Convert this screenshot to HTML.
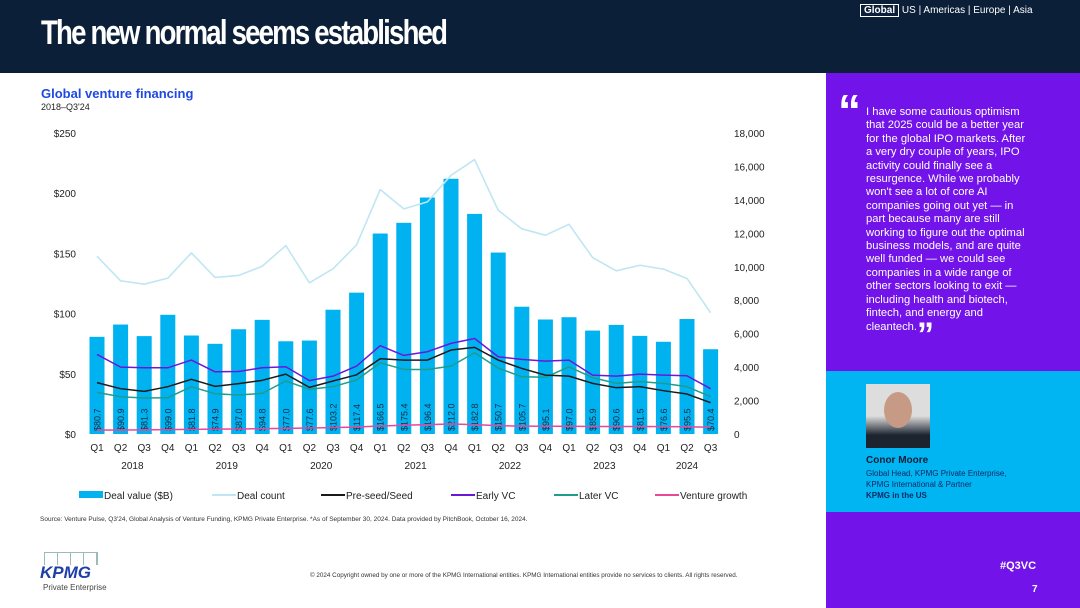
<!DOCTYPE html>
<html><head><meta charset="utf-8"><style>
body{margin:0;width:1080px;height:608px;position:relative;overflow:hidden;background:#fff;font-family:"Liberation Sans",sans-serif}
.abs{position:absolute}
</style></head><body>
<div class="abs" style="left:0;top:0;width:1080px;height:73px;background:#0c1f38"></div>
<div class="abs" style="left:41px;top:14px;color:#fff;font-size:34px;font-weight:bold;letter-spacing:-2.2px;transform:scaleX(0.81);transform-origin:left">The new normal seems established</div>
<div class="abs" style="left:860px;top:5px;color:#fff;font-size:10px"><span style="border:1px solid #fff;padding:0 3px;font-weight:bold">Global</span> <span>US | Americas | Europe | Asia</span></div>
<div class="abs" style="left:41px;top:86px;color:#1e49e2;font-size:13px;font-weight:bold">Global venture financing</div>
<div class="abs" style="left:41px;top:102px;color:#222;font-size:9px">2018–Q3'24</div>
<svg class="abs" id="chart" style="left:0;top:0" width="826" height="540"></svg>
<div class="abs" style="left:40px;top:516px;font-size:6.5px;color:#333">Source: Venture Pulse, Q3'24, Global Analysis of Venture Funding, KPMG Private Enterprise. *As of September 30, 2024. Data provided by PitchBook, October 16, 2024.</div>
<div class="abs" style="left:44px;top:552px;width:52px;height:12px;border:1px solid #9bb;border-bottom:none;background:repeating-linear-gradient(90deg,transparent 0 12px,#9bb 12px 13px)"></div>
<div class="abs" style="left:40px;top:563px;color:#1e3ea8;font-size:17px;font-weight:bold;font-style:italic">KPMG</div>
<div class="abs" style="left:43px;top:583px;color:#444;font-size:8px">Private Enterprise</div>
<div class="abs" style="left:310px;top:572px;font-size:6.3px;color:#333">© 2024 Copyright owned by one or more of the KPMG International entities. KPMG International entities provide no services to clients. All rights reserved.</div>
<div class="abs" style="left:826px;top:73px;width:254px;height:535px;background:#7213ea"></div>
<div class="abs" style="left:838px;top:88px;color:#fff;font-size:46px;font-weight:bold;line-height:46px">“</div>
<div class="abs" style="left:866px;top:106px;width:200px;white-space:nowrap;color:#fff;font-size:11.2px;line-height:13.4px">I have some cautious optimism<br>that 2025 could be a better year<br>for the global IPO markets. After<br>a very dry couple of years, IPO<br>activity could finally see a<br>resurgence. While we probably<br>won't see a lot of core AI<br>companies going out yet — in<br>part because many are still<br>working to figure out the optimal<br>business models, and are quite<br>well funded — we could see<br>companies in a wide range of<br>other sectors looking to exit —<br>including health and biotech,<br>fintech, and energy and<br>cleantech.<span style="display:inline-block;height:10px;vertical-align:top;font-size:34px;font-weight:bold;line-height:28px">”</span></div>
<div class="abs" style="left:826px;top:371px;width:254px;height:141px;background:#00b5f1"></div>
<div class="abs" style="left:866px;top:384px;width:64px;height:64px;background:linear-gradient(#ddd 0,#ddd 50%,#1c2430 80%)"><div style="position:absolute;left:18px;top:8px;width:28px;height:36px;border-radius:50%;background:#c79a85"></div></div>
<div class="abs" style="left:866px;top:455px;color:#0c1f38;font-size:10px;font-weight:bold">Conor Moore</div>
<div class="abs" style="left:866px;top:468px;color:#0c2a66;font-size:8px;line-height:11px">Global Head, KPMG Private Enterprise,<br>KPMG International &amp; Partner<br><b>KPMG in the US</b></div>
<div class="abs" style="left:1000px;top:560px;color:#fff;font-size:11px;font-weight:bold">#Q3VC</div>
<div class="abs" style="left:1032px;top:584px;color:#fff;font-size:10px;font-weight:bold">7</div>
<script>
const quarters=["Q1","Q2","Q3","Q4","Q1","Q2","Q3","Q4","Q1","Q2","Q3","Q4","Q1","Q2","Q3","Q4","Q1","Q2","Q3","Q4","Q1","Q2","Q3","Q4","Q1","Q2","Q3"];
const years=["2018","2019","2020","2021","2022","2023","2024"];
const dealValue=[80.7,90.9,81.3,99.0,81.8,74.9,87.0,94.8,77.0,77.6,103.2,117.4,166.5,175.4,196.4,212.0,182.8,150.7,105.7,95.1,97.0,85.9,90.6,81.5,76.6,95.5,70.4];
const dealCount=[10630,9160,8960,9320,10830,9360,9480,10030,11270,9040,9880,11310,14620,13460,13880,15470,16410,13380,12270,11890,12540,10550,9760,10090,9860,9300,7250];
const preSeed=[3070,2710,2550,2830,3270,2850,3010,3210,3580,2790,3170,3540,4500,4420,4420,5020,5180,4420,3920,3520,3460,3030,2770,2830,2590,2390,1870];
const earlyVC=[4760,4000,3960,3960,4420,3720,3740,3960,4020,3190,3460,4060,5280,4700,4920,5420,5710,4620,4460,4360,4420,3520,3460,3580,3520,3480,2710];
const laterVC=[2490,2230,2150,2170,2830,2410,2330,2430,3170,2670,2830,3230,4260,3860,3860,4060,4860,3940,3420,3390,4020,3370,3030,3130,3030,2830,2230];
const ventureGrowth=[230,240,250,260,280,290,300,320,340,360,380,420,480,520,560,600,560,500,470,460,460,450,450,450,440,430,400];
const leftTicks=[0,50,100,150,200,250];
const rightTicks=[0,2000,4000,6000,8000,10000,12000,14000,16000,18000];
const NS="http://www.w3.org/2000/svg",svg=document.getElementById('chart');
const y0=434,y1=133;
const yL=v=>y0-(v/250)*(y0-y1);
const yR=v=>y0-(v/18000)*(y0-y1);
const xQ=i=>97+i*23.6;
function mk(t,a,p){const e=document.createElementNS(NS,t);for(const k in a)e.setAttribute(k,a[k]);(p||svg).appendChild(e);return e;}
leftTicks.forEach(v=>{const t=mk('text',{x:76,y:yL(v)+4,'text-anchor':'end','font-size':10,fill:'#222'});t.textContent='$'+v;

});
rightTicks.forEach(v=>{const t=mk('text',{x:734,y:yR(v)+4,'font-size':10,fill:'#222'});t.textContent=v.toLocaleString('en-US');

});
dealValue.forEach((v,i)=>{const b=mk('rect',{x:xQ(i)-7.5,y:yL(v),width:15,height:y0-yL(v),fill:'#00b2f0'});


const t=mk('text',{x:0,y:0,'font-size':9,fill:'#1a2a40',transform:`translate(${xQ(i)+3.5},${y0-3}) rotate(-90)`});t.textContent='$'+v.toFixed(1);

});
function line(arr,color,w,name){const p=mk('polyline',{points:arr.map((v,i)=>xQ(i)+','+yR(v)).join(' '),fill:'none',stroke:color,'stroke-width':w,'stroke-linejoin':'round'});

}
line(dealCount,'#bfe6f3',1.6,'line-deal-count');
line(laterVC,'#1e9c8c',1.5,'line-later-vc');
line(preSeed,'#1a1a1a',1.5,'line-pre-seed');
line(earlyVC,'#6a18d8',1.5,'line-early-vc');
line(ventureGrowth,'#e8479a',1.5,'line-venture-growth');
quarters.forEach((q,i)=>{const t=mk('text',{x:xQ(i),y:451,'text-anchor':'middle','font-size':10,fill:'#222'});t.textContent=q;

});
years.forEach((y,j)=>{const n=j<6?4:3;const c=(xQ(j*4)+xQ(j*4+n-1))/2;const t=mk('text',{x:c,y:469,'text-anchor':'middle','font-size':10,fill:'#222'});t.textContent=y;

});
const legNames=["Deal value ($B)","Deal count","Pre-seed/Seed","Early VC","Later VC","Venture growth"];
const legColors=['#00b2f0','#bfe6f3','#1a1a1a','#6a18d8','#1e9c8c','#e8479a'];
const legX=[79,212,321,451,554,655];
legNames.forEach((n,i)=>{const g=mk('g',{});


const x=legX[i];
if(i==0)mk('rect',{x:x,y:491,width:24,height:7,fill:legColors[i]},g);else mk('line',{x1:x,y1:495,x2:x+24,y2:495,stroke:legColors[i],'stroke-width':2},g);
const t=mk('text',{x:x+25,y:499,'font-size':10,fill:'#222'},g);t.textContent=n;});
</script>
</body></html>
